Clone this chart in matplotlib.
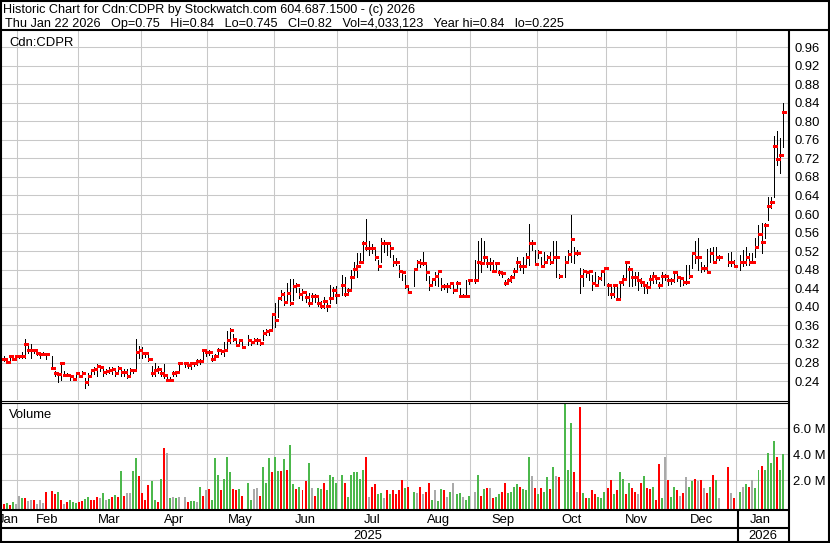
import matplotlib.pyplot as plt
import numpy as np
import pandas as pd

plt.rcParams['font.family'] = ['Liberation Sans', 'DejaVu Sans']

# TSX holidays: the chart keeps an empty slot for them
holidays = ['2025-02-17', '2025-04-18', '2025-05-19', '2025-07-01', '2025-08-04',
            '2025-09-01', '2025-10-13', '2025-12-25', '2025-12-26', '2026-01-01']

# daily bars, one value per trading day (Jan 24 2025 .. Jan 22 2026)
close = [
    .288, .287, .282, .293, .288, .293,                                      # Jan
    .293, .293, .319, .307, .307, .307, .300, .299, .299, .299,
    .269, .258, .255, .278, .254, .254, .250, .244, .257,                    # Feb
    .250, .258, .239, .250, .264, .265, .273, .270, .260, .262, .264,
    .265, .257, .269, .260, .260, .250, .264, .264, .303, .307,              # Mar
    .300, .300, .287, .258, .264, .267, .257, .253, .242, .242, .257, .259, .278,
    .278, .275, .278, .278, .284, .284, .307, .303,                          # Apr
    .303, .288, .293, .307, .304, .307, .329, .349, .330, .318, .329, .314,
    .329, .325, .329, .329, .323, .344, .347, .349, .384,                    # May
    .372, .418, .428, .411, .429, .409, .444, .447, .428, .433, .422,
    .409, .424, .423, .408, .402, .413, .402, .418, .436, .426,              # Jun
    .447, .428, .436, .465, .482, .488, .497, .538, .527, .527, .526,
    .508, .489, .538, .538, .537, .526, .497, .497, .478, .476, .444,        # Jul
    .433, .481, .497, .494, .494, .474, .447, .459, .467, .478,
    .444, .444, .445, .451, .436, .452, .424, .424, .424, .458,              # Aug
    .458, .497, .494, .508, .494, .494, .478, .494, .474, .472, .452,
    .458, .465, .478, .497, .489, .489, .508, .538, .538, .492,              # Sep
    .519, .489, .497, .508, .497, .508, .508, .467,
    .497, .513, .546, .517, .517, .467, .478, .474, .478, .452, .447, .462, .478, .483,  # Oct
    .447, .428, .447, .416, .454, .459, .497, .481, .464, .464,
    .458, .454, .447, .442, .459, .467, .462, .447, .467, .467,              # Nov
    .458, .458, .474, .464, .462, .454, .454, .467, .517, .508, .508,
    .483, .483, .474, .517, .497, .508, .508, .496, .496, .489,              # Dec
    .496, .496, .508, .496, .496, .528, .557, .539, .576, .617, .627, .747, .718, .727, .820,
]
high = [
    .292, .293, .288, .296, .294, .295,
    .296, .303, .330, .315, .319, .310, .307, .300, .302, .300,
    .294, .262, .258, .280, .262, .258, .253, .250, .260,
    .258, .262, .246, .257, .266, .270, .276, .273, .267, .266, .270,
    .270, .262, .272, .264, .265, .266, .268, .266, .330, .315,
    .314, .303, .300, .272, .278, .272, .262, .276, .256, .248, .262, .262, .280,
    .282, .280, .280, .282, .287, .288, .310, .307,
    .306, .296, .299, .311, .309, .325, .347, .354, .342, .333, .331, .326,
    .339, .330, .333, .332, .330, .350, .352, .352, .386,
    .408, .422, .436, .433, .451, .459, .459, .452, .440, .438, .430,
    .429, .429, .428, .420, .413, .422, .411, .447, .442, .445,
    .469, .464, .440, .480, .497, .517, .517, .541, .589, .541, .535,
    .523, .501, .548, .545, .540, .535, .512, .505, .490, .480, .469,
    .447, .483, .500, .504, .518, .496, .467, .462, .474, .480,
    .462, .450, .451, .454, .454, .455, .440, .428, .458, .460,
    .501, .541, .548, .541, .505, .505, .501, .497, .480, .478, .458,
    .462, .469, .483, .508, .495, .508, .515, .579, .545, .523,
    .523, .508, .519, .512, .519, .541, .541, .470,
    .510, .522, .598, .530, .522, .483, .481, .480, .480, .469, .476, .466, .480, .483,
    .451, .447, .450, .447, .454, .469, .497, .487, .478, .476,
    .476, .462, .454, .454, .469, .476, .468, .454, .476, .470,
    .469, .462, .478, .470, .467, .460, .490, .490, .519, .541, .548,
    .497, .490, .524, .526, .530, .530, .512, .517, .519, .501,
    .512, .523, .530, .515, .515, .548, .576, .580, .580, .637, .637, .768, .780, .763, .840,
]
low = [
    .285, .283, .280, .285, .285, .288,
    .290, .290, .290, .300, .289, .300, .297, .289, .296, .287,
    .266, .250, .239, .242, .250, .250, .242, .242, .242,
    .248, .250, .224, .232, .250, .255, .250, .262, .250, .255, .258,
    .255, .250, .255, .250, .252, .246, .250, .258, .264, .290,
    .290, .292, .283, .252, .250, .258, .250, .246, .240, .240, .250, .252, .257,
    .270, .268, .266, .272, .275, .276, .284, .293,
    .296, .284, .286, .292, .298, .293, .311, .321, .326, .315, .318, .312,
    .318, .318, .322, .320, .318, .329, .340, .340, .350,
    .357, .379, .415, .404, .408, .405, .415, .432, .420, .415, .410,
    .401, .408, .410, .402, .398, .397, .390, .408, .422, .408,
    .426, .424, .428, .440, .462, .464, .494, .497, .523, .512, .515,
    .501, .480, .497, .519, .512, .508, .487, .490, .465, .458, .440,
    .429, .444, .483, .486, .490, .458, .436, .450, .447, .444,
    .436, .438, .433, .440, .429, .440, .422, .422, .422, .450,
    .451, .462, .476, .497, .485, .480, .476, .478, .469, .465, .447,
    .450, .454, .465, .476, .480, .472, .487, .490, .523, .490,
    .505, .487, .490, .495, .492, .497, .465, .462,
    .465, .494, .497, .494, .512, .429, .444, .465, .458, .436, .444, .452, .458, .447,
    .426, .418, .422, .415, .422, .447, .462, .444, .444, .447,
    .436, .445, .429, .429, .444, .451, .452, .440, .451, .458,
    .447, .450, .454, .455, .444, .446, .450, .462, .483, .494, .480,
    .476, .478, .472, .497, .494, .494, .500, .487, .487, .487,
    .480, .487, .490, .490, .494, .508, .530, .515, .548, .587, .612, .637, .706, .688, .745,
]
# volume in millions of shares
volume = [
    .10, .15, .20, .10, .30, .13,
    .76, .64, .64, .40, .45, .50, .15, .45, .20, 1.10,
    1.15, .95, 1.10, .50, .15, .30, .45, .30, .25,
    .30, .40, .55, .70, .45, .45, .70, .60, 1.00, .45, .55,
    .70, .85, .70, 2.70, .80, 1.00, 1.00, 2.70, 3.70, 2.30,
    1.00, .50, 1.60, 1.90, .50, .30, 2.10, 4.50, 4.10, .60, .70, .60, .70,
    .70, .30, .40, .40, .30, 1.50, .80, 1.20,
    1.30, .50, 3.70, 2.40, 1.20, 2.10, 3.80, 2.60, 1.30, 1.20, 1.30, .80,
    1.80, .50, 1.30, 1.40, .80, 3.00, 1.80, 3.70, 2.60,
    3.80, 2.70, 2.70, 3.60, 2.80, 4.70, 1.70, 1.30, 1.50, 1.20, 1.90,
    3.30, 1.40, .80, 1.40, 1.30, 1.80, 1.20, 2.40, 2.20, 1.80,
    2.40, 1.80, .70, 2.40, 2.60, 2.60, 2.10, 2.80, 3.80, .70, 1.50,
    1.70, .90, 1.00, .60, 1.20, .90, 1.20, .90, 1.20, 2.00, 1.40,
    1.50, 1.10, 1.00, 1.50, .90, 1.10, 1.80, .50, 1.20, .40,
    1.30, 1.20, .70, 1.10, 1.80, .90, 1.00, .70, .50, .80,
    1.10, 2.40, .80, 1.30, 1.40, 1.40, .60, .70, .90, 1.10, 1.80,
    1.00, 1.10, 1.50, 1.70, 1.50, 1.30, 1.20, 3.80, 2.30, 1.40,
    .90, 1.40, 1.10, 2.20, 1.30, 3.00, 2.30, 2.20,
    8.10, 2.80, 6.40, 2.60, 1.10, 7.60, 1.00, .60, .60, 1.20, .90, .70, .60, 1.10,
    1.40, 2.00, .90, 1.20, 2.60, 2.10, .90, 1.80, 1.40, 1.10,
    .90, 1.80, 2.30, 1.40, 1.30, 1.50, .50, 3.20, .60, 3.80,
    2.00, .70, 1.50, 1.20, .80, 1.00, 2.20, 1.50, 1.90, 2.10, 1.90,
    2.00, 1.40, 1.00, 1.50, 2.40, 2.00, .60, 3.00, 1.00, .60,
    1.10, 1.50, 1.70, 1.50, 2.00, 1.40, 2.80, 3.10, 2.80, 4.10, 3.30, 5.00, 3.80, 2.80, 4.03,
]
# volume bar colour: g = up, r = down, n = unchanged
vol_dir = ("nrgrgn" + "ngrnnrnnnr" "rrgrnrggg" + "rrggrrrngng" "rgrgrnnggr"
           + "rrrggrgrngngn" "nrggngrn" + "rgggrgggrrgr" "ggnnrgggr"
           + "ggrgrggrgrr" "gnrggrgggg" + "grggggggrnr" "rggnrgrrrrg"
           + "rgnrnrrgng" "grngnggngg" + "ngrgrnrggrr" "ggggrgggnr"
           + "grggrgnr" "gggrnrgrgrrggg" + "rrgrggrgrr" "nrgrrgrrgn"
           + "rggrnrnggrn" "rnrgrgnrnr" + "gngrnggrggggrgg")

header1 = "Historic Chart for Cdn:CDPR by Stockwatch.com 604.687.1500 - (c) 2026"
header2 = ("Thu Jan 22 2026   Op=0.75   Hi=0.84   Lo=0.745   Cl=0.82   "
           "Vol=4,033,123   Year hi=0.84   lo=0.225")

W, H = 830, 543
FS = 9.1
GRID = '#c8c8c8'
COLORS = {'g': '#4cb84c', 'r': '#ff0000', 'n': '#aaaaaa'}


def box(x0, y0, x1, y1):
    # figure rectangle from pixel corners, origin at top left
    return [x0 / W, 1 - y1 / H, (x1 - x0) / W, (y1 - y0) / H]


weekdays = pd.bdate_range('2025-01-24', '2026-01-22')
days = weekdays[~weekdays.isin(pd.to_datetime(holidays))]
x = weekdays.get_indexer(days)
xlim = (-0.17, 261.1)

slot = pd.Series(np.arange(len(weekdays)), index=weekdays)
spans = slot.groupby([weekdays.year, weekdays.month]).agg(['min', 'max'])
month_edges = spans['min'].values[1:] - 0.5

fig = plt.figure(figsize=(W / 100, H / 100), dpi=100)

# price panel
ax = fig.add_axes(box(0, 31, 789, 400))
ax.vlines(x, low, high, color='black', lw=0.72, antialiased=False)
ax.hlines(close, x - 0.15, x + 1.0, color='red', lw=1.9, antialiased=False)
ax.set_xlim(*xlim)
ax.set_ylim(0.1992, 0.9945)
ax.set_xticks(month_edges)
ax.set_yticks(np.arange(0.24, 0.97, 0.04))
ax.yaxis.tick_right()
ax.yaxis.set_major_formatter('{x:.2f}')
ax.tick_params(length=0, labelsize=9.4, pad=4, labelbottom=False)
ax.grid(color=GRID, lw=0.75)
ax.set_axisbelow(True)
for s in ax.spines.values():
    s.set_visible(False)

# volume panel
axv = fig.add_axes(box(0, 404, 789, 509))
vbot = -0.23
axv.bar(x, np.array(volume) - vbot, bottom=vbot, width=0.66,
        color=[COLORS[c] for c in vol_dir], antialiased=False)
axv.set_xlim(*xlim)
axv.set_ylim(vbot, 7.85)
axv.set_xticks(month_edges)
axv.set_yticks([2, 4, 6])
axv.yaxis.tick_right()
axv.yaxis.set_major_formatter('{x:.1f} M')
axv.tick_params(length=0, labelsize=9.4, pad=3, labelbottom=False)
axv.grid(color=GRID, lw=0.75)
axv.set_axisbelow(True)
for s in axv.spines.values():
    s.set_visible(False)

# month row and year row
axm = fig.add_axes(box(0, 510, 789, 527))
axm.set_xlim(*xlim)
axm.set_ylim(527, 510)
axm.axis('off')
for (yr, mo), (f, l) in spans.iterrows():
    lo_, hi_ = max(f - 0.5, xlim[0]), min(l + 0.5, xlim[1])
    axm.text((lo_ + hi_) / 2, 522.7, pd.Timestamp(yr, mo, 1).strftime('%b'),
             ha='center', va='baseline', fontsize=9.4, clip_on=True)

axy = fig.add_axes(box(0, 528, 789, 541))
axy.set_xlim(*xlim)
axy.set_ylim(541, 528)
axy.axis('off')
year_edge = month_edges[-1]
axy.text((xlim[0] + year_edge) / 2, 539, '2025', ha='center', va='baseline', fontsize=9.4)
axy.text((year_edge + xlim[1]) / 2, 539, '2026', ha='center', va='baseline', fontsize=9.4)

# frame, separators and labels in pixel coordinates
axo = fig.add_axes([0, 0, 1, 1], zorder=10)
axo.set_xlim(0, W)
axo.set_ylim(H, 0)
axo.axis('off')
axo.patch.set_alpha(0)

thick = [((0, W), (1, 1)), ((0, W), (541.5, 541.5)), ((1, 1), (0, H)),
         ((828.5, 828.5), (0, H)), ((0, W), (30.3, 30.3)), ((789, 789), (30, H)),
         ((0, 789), (510.3, 510.3)), ((0, 789), (527.7, 527.7)),
         ((738.3, 738.3), (510, 541))]
for xs, ys in thick:
    axo.plot(xs, ys, color='black', lw=1.5, solid_capstyle='butt')
for yy in (401.3, 403.3):
    axo.plot((0, 789), (yy, yy), color='black', lw=0.8, solid_capstyle='butt')

axo.text(3, 12.7, header1, fontsize=FS, va='baseline')
axo.text(5, 27, header2, fontsize=FS, va='baseline')
axo.text(9, 45.7, 'Cdn:CDPR', fontsize=9.4, va='baseline')
axo.text(9, 417.7, 'Volume', fontsize=9.4, va='baseline')

fig.savefig('out.png', dpi=100)
